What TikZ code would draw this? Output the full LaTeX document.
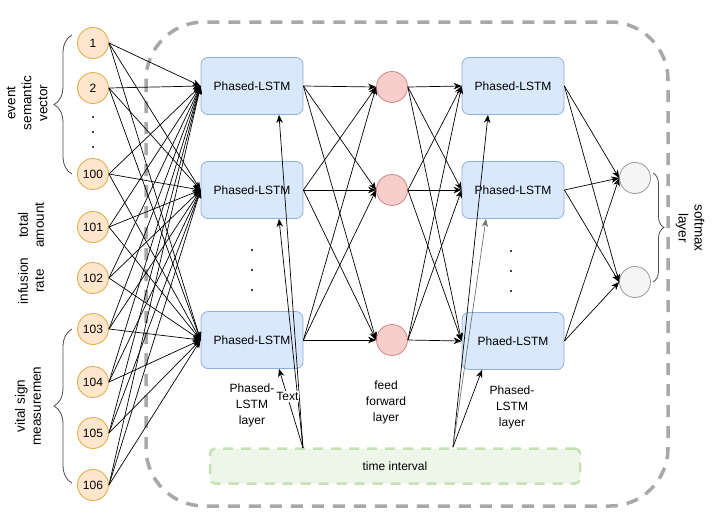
\documentclass[tikz,border=0pt]{standalone}
\usepackage{fontspec}
\setmainfont{Liberation Sans}
\usetikzlibrary{arrows.meta,decorations.pathreplacing}
\definecolor{inFill}{HTML}{FFE6CC}
\definecolor{inDraw}{HTML}{E0B050}
\definecolor{lstmFill}{HTML}{DAE8FC}
\definecolor{lstmDraw}{HTML}{8FAEDC}
\definecolor{ffFill}{HTML}{F8CECC}
\definecolor{ffDraw}{HTML}{D48585}
\definecolor{smFill}{HTML}{F5F5F5}
\definecolor{smDraw}{HTML}{999999}
\definecolor{tiFill}{HTML}{EEF6E9}
\definecolor{tiDraw}{HTML}{C6E2B5}
\definecolor{frameGray}{HTML}{A8A8A8}
\tikzset{
  innode/.style={circle,draw=inDraw,fill=inFill,line width=0.9pt,minimum size=31pt,inner sep=0pt,font=\fontsize{12}{14}\selectfont},
  lstm/.style={rectangle,rounded corners=7pt,draw=lstmDraw,fill=lstmFill,line width=0.8pt,minimum width=102pt,minimum height=57pt,font=\fontsize{12}{14}\selectfont},
  ffnode/.style={circle,draw=ffDraw,fill=ffFill,line width=0.8pt,minimum size=31pt,inner sep=0pt},
  smnode/.style={circle,draw=smDraw,fill=smFill,line width=0.8pt,minimum size=31pt,inner sep=0pt},
  conn/.style={-{Stealth[length=8pt,width=6.5pt,inset=2.5pt]},line width=0.7pt},
  sidelbl/.style={align=center,font=\fontsize{13.5}{16}\selectfont},
  laylbl/.style={align=center,font=\fontsize{12}{16}\selectfont},
  brc/.style={decorate,decoration={brace,amplitude=#1},draw=black!70,line width=0.8pt},
}
\begin{document}
\begin{tikzpicture}[x=1pt,y=-1pt]
\useasboundingbox (0,0) rectangle (713,523);
\draw[frameGray,line width=3.5pt,dash pattern=on 12pt off 9pt,rounded corners=58pt](146,22) rectangle (668,506);
\node[draw=tiDraw,fill=tiFill,line width=2.5pt,dash pattern=on 10pt off 8pt,rounded corners=5pt,minimum width=370pt,minimum height=35pt,font=\fontsize{12}{14}\selectfont] (ti) at (395,466) {time interval};
\coordinate (ta) at (303,448);
\coordinate (tb) at (453,447);

\foreach \n/\y in {1/43,2/88,100/174,101/227,102/278,103/329,104/382,105/433,106/485}
  \node[innode] (in\n) at (93,\y) {\n};
\foreach \y in {117,132,147} \fill (93,\y) circle (1.2);

\node[lstm] (pa1) at (252,86) {Phased-LSTM};
\node[lstm] (pa2) at (252,190) {Phased-LSTM};
\node[lstm] (pa3) at (252,340) {Phased-LSTM};
\node[ffnode] (ff1) at (392,87) {};
\node[ffnode] (ff2) at (392,190) {};
\node[ffnode] (ff3) at (392,340) {};
\node[lstm] (pb1) at (513,86) {Phased-LSTM};
\node[lstm] (pb2) at (513,190) {Phased-LSTM};
\node[lstm] (pb3) at (513,341) {Phaed-LSTM};
\node[smnode] (sm1) at (635,178) {};
\node[smnode] (sm2) at (635,282) {};
\foreach \y in {250,270,290} {\fill (252,\y) circle (1.2); \fill (511,\y+1) circle (1.2);}

\foreach \i in {1,2,100,101,102,103,104,105,106}
  \foreach \j in {1,2,3} \draw[conn] (in\i.east) -- (pa\j.west);
\foreach \i in {1,2,3}
  \foreach \j in {1,2,3} {
    \draw[conn] (pa\i.east) -- (ff\j.west);
    \draw[conn] (ff\i.east) -- (pb\j.west);
  }
\foreach \i in {1,2,3}
  \foreach \j in {1,2} \draw[conn] (pb\i.east) -- (sm\j.west);

\draw[conn] (ta) -- ([xshift=27pt]pa1.south);
\draw[conn] (ta) -- ([xshift=27pt]pa2.south);
\draw[conn] (ta) -- ([xshift=27pt]pa3.south) node[pos=0.65,fill=white,inner sep=1pt,font=\fontsize{12}{14}\selectfont] (txt) {Text};
\draw[conn] (tb) -- ([xshift=-25pt]pb1.south);
\draw[conn,black!55] (tb) -- ([xshift=-27pt]pb2.south);
\draw[conn] (tb) -- ([xshift=-31pt]pb3.south);

\draw[brc=18pt] (72,174) -- (72,35);
\draw[brc=18pt] (72,483) -- (72,329);
\draw[brc=11pt] (653,173) -- (653,282);

\node[sidelbl,rotate=90] (lev) at (27,103) {event\\semantic\\vector};
\node[sidelbl,rotate=90] (lta) at (31,225) {total\\amount};
\node[sidelbl,rotate=90] (lir) at (31,281) {infusion\\rate};
\node[sidelbl,rotate=90] (lvs) at (28,406) {vital sign\\measuremen};
\node[sidelbl,rotate=-90] (lsm) at (690,228) {softmax\\layer};

\node[laylbl] (la) at (252,405) {Phased-\\LSTM\\layer};
\node[laylbl] (lf) at (386,402) {feed\\forward\\layer};
\node[laylbl] (lb) at (512,407) {Phased-\\LSTM\\layer};
\end{tikzpicture}
\end{document}
